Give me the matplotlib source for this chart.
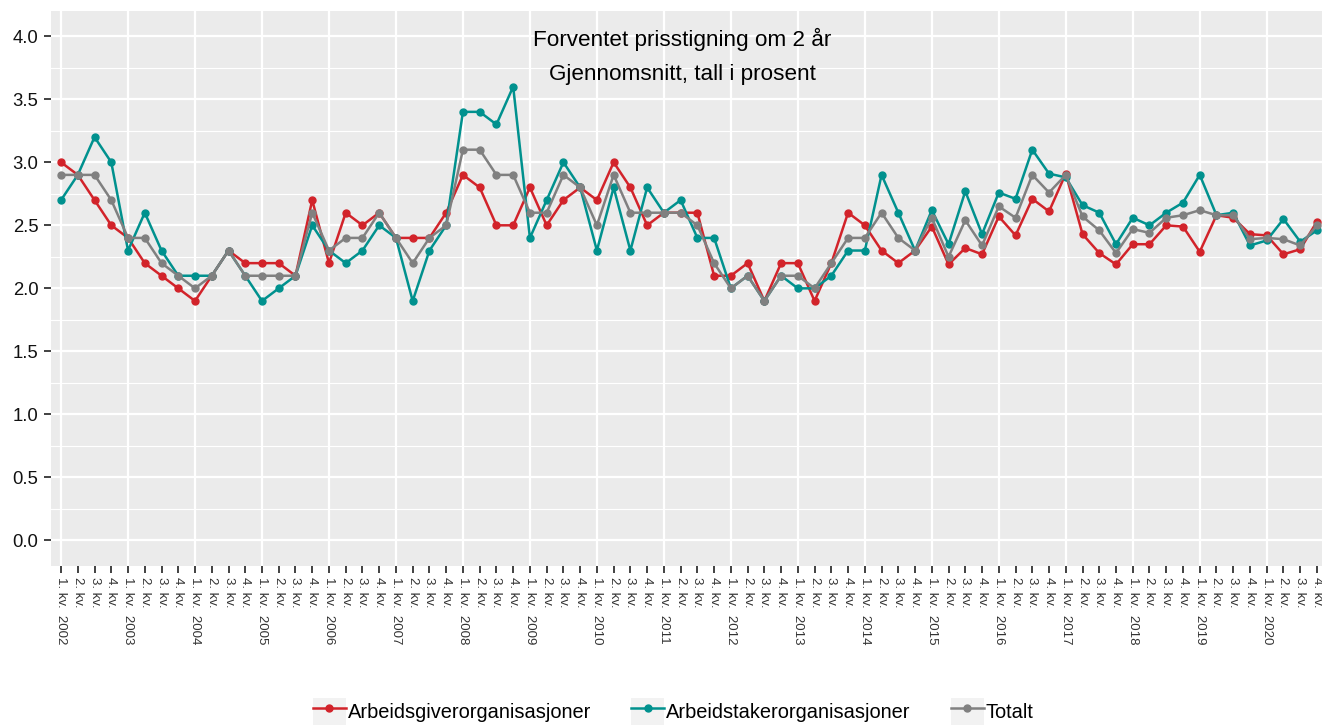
import matplotlib
matplotlib.use("Agg")
import matplotlib.pyplot as plt
from matplotlib.lines import Line2D
from matplotlib.patches import Patch
from matplotlib.ticker import MultipleLocator

plt.rcParams['font.family'] = ['Liberation Sans', 'DejaVu Sans']

years = list(range(2002, 2021))
quarter_labels = []
for y in years:
    quarter_labels += [f"1. kv.  {y}", "2. kv.", "3. kv.", "4. kv."]

arbeidsgiver = [
    3.0, 2.9, 2.7, 2.5,
    2.4, 2.2, 2.1, 2.0,
    1.9, 2.1, 2.3, 2.2,
    2.2, 2.2, 2.1, 2.7,
    2.2, 2.6, 2.5, 2.6,
    2.4, 2.4, 2.4, 2.6,
    2.9, 2.8, 2.5, 2.5,
    2.8, 2.5, 2.7, 2.8,
    2.7, 3.0, 2.8, 2.5,
    2.6, 2.6, 2.6, 2.1,
    2.1, 2.2, 1.9, 2.2,
    2.2, 1.9, 2.2, 2.6,
    2.5, 2.3, 2.2, 2.3,
    2.49, 2.19, 2.32, 2.27,
    2.57, 2.42, 2.71, 2.61,
    2.91, 2.43, 2.28, 2.19,
    2.35, 2.35, 2.50, 2.49,
    2.29, 2.58, 2.56, 2.43,
    2.42, 2.27, 2.31, 2.53,
]
arbeidstaker = [
    2.7, 2.9, 3.2, 3.0,
    2.3, 2.6, 2.3, 2.1,
    2.1, 2.1, 2.3, 2.1,
    1.9, 2.0, 2.1, 2.5,
    2.3, 2.2, 2.3, 2.5,
    2.4, 1.9, 2.3, 2.5,
    3.4, 3.4, 3.3, 3.6,
    2.4, 2.7, 3.0, 2.8,
    2.3, 2.8, 2.3, 2.8,
    2.6, 2.7, 2.4, 2.4,
    2.0, 2.1, 1.9, 2.1,
    2.0, 2.0, 2.1, 2.3,
    2.3, 2.9, 2.6, 2.3,
    2.62, 2.35, 2.77, 2.43,
    2.76, 2.71, 3.10, 2.91,
    2.88, 2.66, 2.60, 2.35,
    2.56, 2.50, 2.60, 2.68,
    2.90, 2.58, 2.60, 2.34,
    2.38, 2.55, 2.37, 2.46,
]
totalt = [
    2.9, 2.9, 2.9, 2.7,
    2.4, 2.4, 2.2, 2.1,
    2.0, 2.1, 2.3, 2.1,
    2.1, 2.1, 2.1, 2.6,
    2.3, 2.4, 2.4, 2.6,
    2.4, 2.2, 2.4, 2.5,
    3.1, 3.1, 2.9, 2.9,
    2.6, 2.6, 2.9, 2.8,
    2.5, 2.9, 2.6, 2.6,
    2.6, 2.6, 2.5, 2.2,
    2.0, 2.1, 1.9, 2.1,
    2.1, 2.0, 2.2, 2.4,
    2.4, 2.6, 2.4, 2.3,
    2.56, 2.25, 2.54, 2.34,
    2.65, 2.56, 2.90, 2.76,
    2.90, 2.57, 2.46, 2.28,
    2.47, 2.44, 2.56, 2.58,
    2.62, 2.58, 2.58, 2.39,
    2.40, 2.39, 2.34, 2.50,
]

series = [
    ("Arbeidsgiverorganisasjoner", arbeidsgiver, "#D2232A"),
    ("Arbeidstakerorganisasjoner", arbeidstaker, "#00918E"),
    ("Totalt", totalt, "#808080"),
]

W, H = 1322, 725
fig = plt.figure(figsize=(W / 100, H / 100), dpi=100)
left, right, top, bottom = 51, 1327, 11, 565.7
ax = fig.add_axes([left / W, 1 - bottom / H, (right - left) / W, (bottom - top) / H])
ax.set_facecolor("#EBEBEB")
for s in ax.spines.values():
    s.set_visible(False)

x = list(range(len(quarter_labels)))
for name, vals, col in series:
    ax.plot(x, vals, color=col, lw=1.8, marker='o', ms=5, zorder=3)

ax.set_xlim(-0.6, len(x) - 0.4)
ax.set_ylim(-0.2, 4.2)
ax.yaxis.set_minor_locator(MultipleLocator(0.25))
ax.set_yticks([i * 0.5 for i in range(9)])
ax.set_yticklabels([f"{i * 0.5:.1f}" for i in range(9)])
ax.set_xticks(x)
ax.set_xticklabels(quarter_labels, rotation=-90, va='top', ha='center', fontsize=9.5,
                   color='#111111')
ax.tick_params(axis='y', labelsize=13.3, colors='#333333', labelcolor='#111111',
               length=5, width=1.3, pad=4)
ax.tick_params(axis='x', colors='#333333', length=5, width=1.3, pad=3)
ax.tick_params(axis='y', which='minor', length=0)

ax.grid(axis='y', which='major', color='white', lw=1.6, zorder=0)
ax.grid(axis='y', which='minor', color='white', lw=0.8, zorder=0)
for i in range(0, len(x), 4):
    ax.axvline(i, color='white', lw=1.6, zorder=0)
ax.set_axisbelow(True)

ax.text(0.495, 0.948, "Forventet prisstigning om 2 år", transform=ax.transAxes,
        ha='center', va='center', fontsize=16.2, color='black')
ax.text(0.495, 0.886, "Gjennomsnitt, tall i prosent", transform=ax.transAxes,
        ha='center', va='center', fontsize=16.2, color='black')

handles = [(Patch(facecolor='#F2F2F2', edgecolor='none'),
            Line2D([], [], color=col, lw=1.8, marker='o', ms=5))
           for _, _, col in series]
labels = [name for name, _, _ in series]
fig.legend(handles, labels, loc='center', bbox_to_anchor=(673 / W, 1 - 712 / H),
           ncol=3, frameon=False, fontsize=14.4, handlelength=1.65, handleheight=1.75,
           handletextpad=0.1, columnspacing=2.0, borderpad=0)

fig.savefig("out.png", dpi=100)
